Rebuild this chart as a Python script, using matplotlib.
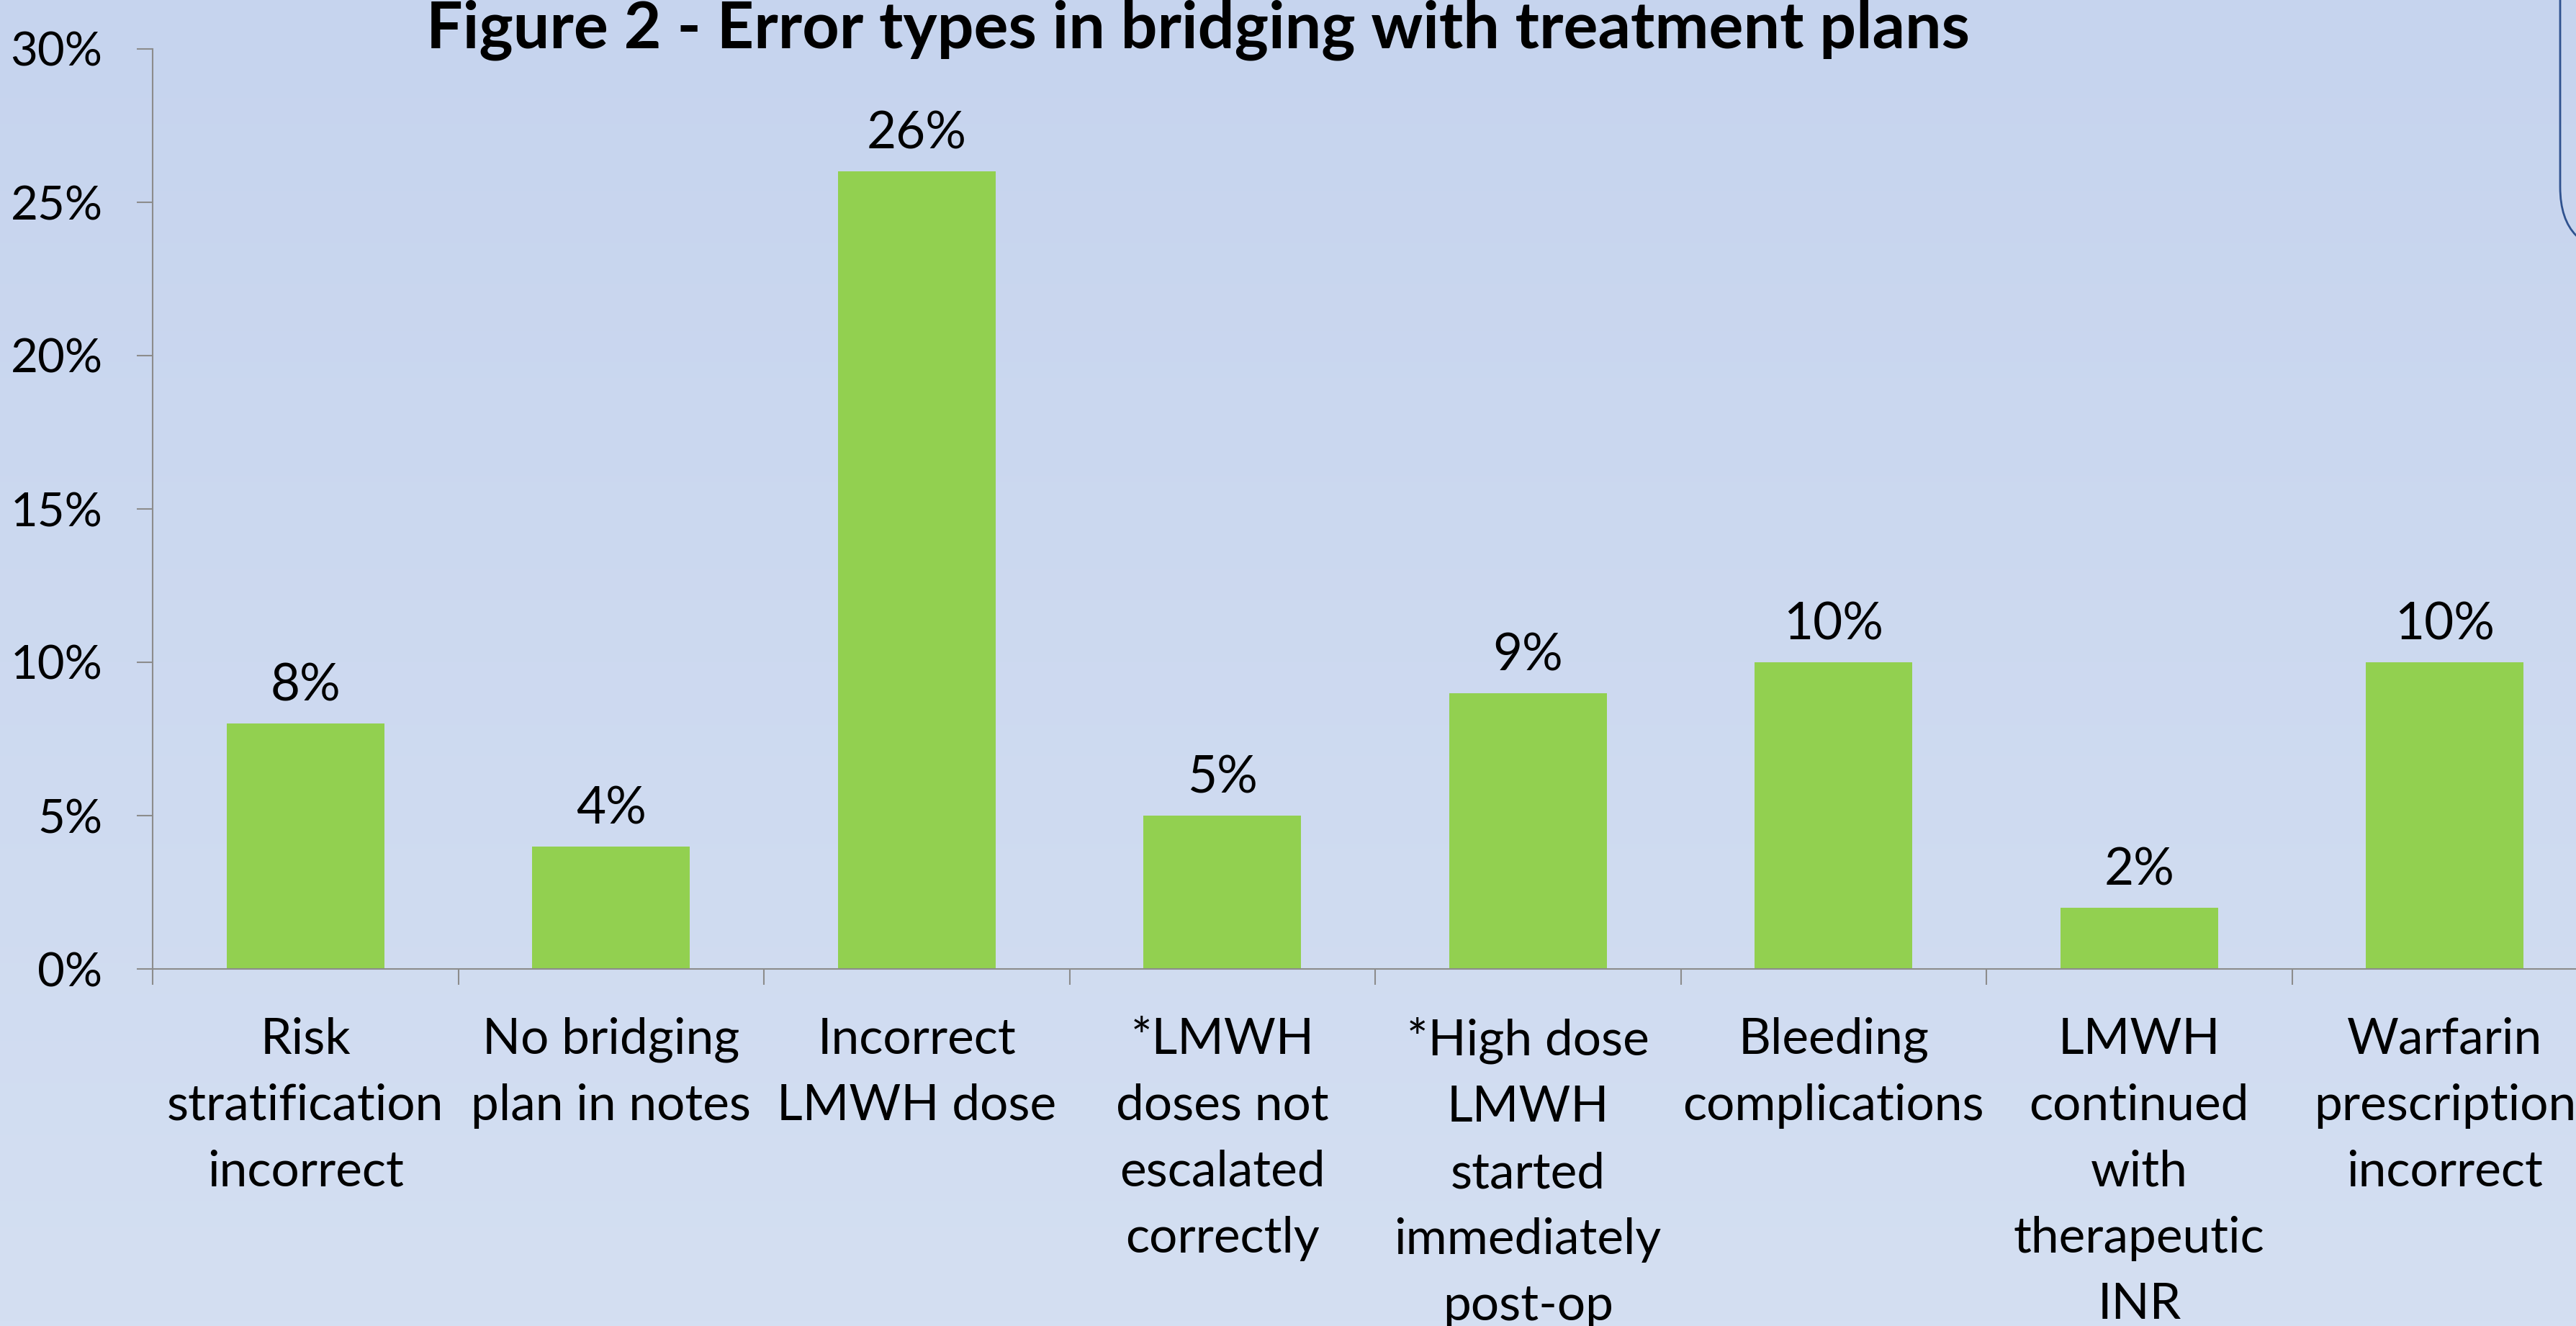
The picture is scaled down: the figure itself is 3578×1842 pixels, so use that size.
import numpy as np
import matplotlib
matplotlib.use("Agg")
import matplotlib.pyplot as plt
from matplotlib.patches import FancyBboxPatch
from matplotlib.ticker import FuncFormatter

plt.rcParams['font.family'] = ['Lato', 'DejaVu Sans']

# chart data
categories = [
    "Risk\nstratification\nincorrect",
    "No bridging\nplan in notes",
    "Incorrect\nLMWH dose",
    "*LMWH\ndoses not\nescalated\ncorrectly",
    "*High dose\nLMWH\nstarted\nimmediately\npost-op",
    "Bleeding\ncomplications",
    "LMWH\ncontinued\nwith\ntherapeutic\nINR",
    "Warfarin\nprescription\nincorrect",
]
error_pct = [8, 4, 26, 5, 9, 10, 2, 10]
y_ticks = [0, 5, 10, 15, 20, 25, 30]
title = "Figure 2 - Error types in bridging with treatment plans"

BAR_COLOR = "#92d050"
AXIS_COLOR = "#8c8c8c"

W, H = 3578, 1842
fig = plt.figure(figsize=(W / 100, H / 100), dpi=100)

# gradient background
bg = fig.add_axes([0, 0, 1, 1], zorder=-10)
top_col = np.array([198, 212, 238]) / 255
bot_col = np.array([212, 223, 242]) / 255
t = np.linspace(0, 1, 256)[:, None]
grad = top_col[None, :] * (1 - t) + bot_col[None, :] * t
bg.imshow(grad[:, None, :], aspect="auto", extent=[0, 1, 0, 1])
bg.set_axis_off()

# axes reach past the right edge (the source is cropped)
ax_left = 212 / W
ax_right = (212 + 8 * 424.5) / W
ax_bottom = 1 - 1346 / H
ax_top = 1 - 68 / H
ax = fig.add_axes([ax_left, ax_bottom, ax_right - ax_left, ax_top - ax_bottom])
ax.patch.set_alpha(0)

x = np.arange(len(categories))
bars = ax.bar(x, error_pct, width=0.516, color=BAR_COLOR, zorder=2)

ax.set_xlim(-0.5, len(categories) - 0.5)
ax.set_ylim(0, 30)
ax.set_yticks(y_ticks)
ax.yaxis.set_major_formatter(FuncFormatter(lambda v, p: f"{v:.0f}%"))

# category ticks sit between bars
ax.set_xticks(np.arange(-0.5, len(categories)), minor=False)
ax.set_xticklabels([])
ax.set_xticks(x, minor=True)
ax.set_xticklabels(categories, minor=True, linespacing=1.57)
ax.tick_params(axis="x", which="minor", length=0, pad=48, labelsize=50)
ax.tick_params(axis="x", which="major", length=16, width=1.5, color=AXIS_COLOR, direction="out")
ax.tick_params(axis="y", length=16, width=1.5, color=AXIS_COLOR, pad=34, labelsize=47)
for lbl in ax.get_xticklabels(minor=True):
    lbl.set_verticalalignment("top")

for side in ["top", "right"]:
    ax.spines[side].set_visible(False)
for side in ["left", "bottom"]:
    ax.spines[side].set_color(AXIS_COLOR)
    ax.spines[side].set_linewidth(1.5)

for b, v in zip(bars, error_pct):
    ax.annotate(f"{v}%", (b.get_x() + b.get_width() / 2, v), xytext=(0, 14),
                textcoords="offset points", ha="center", va="bottom", fontsize=51)

fig.text(1664 / W, 1 - 66 / H, title, ha="center", va="baseline",
         fontsize=64.5, fontweight="bold")

# edge of a rounded box poking in at top right
box = FancyBboxPatch((3556, H - 350), 600, 600, boxstyle="round,pad=0,rounding_size=90",
                     transform=None, facecolor="none", edgecolor="#2f528f", linewidth=2)
fig.patches.append(box)

fig.savefig("out.png", dpi=100)
